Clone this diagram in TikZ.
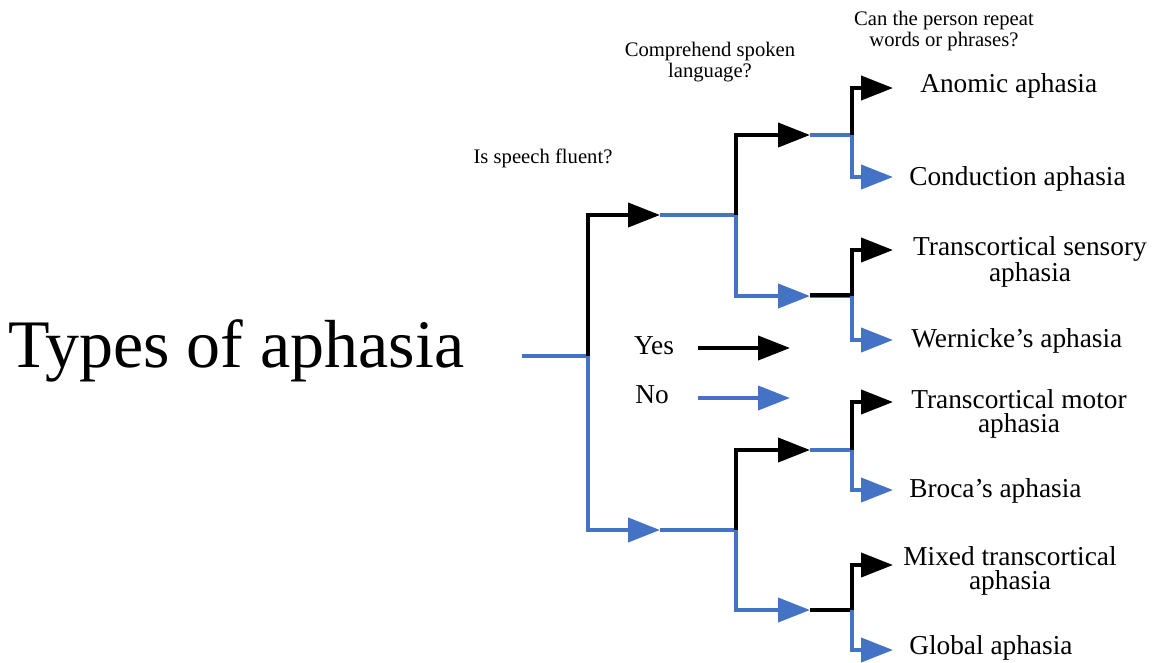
\documentclass[tikz,border=0pt]{standalone}
\usepackage{fontspec}
\setmainfont{Liberation Serif}
\usetikzlibrary{arrows.meta}
\definecolor{noblue}{HTML}{4472C4}
\tikzset{
  yesline/.style={draw=black, line width=3pt},
  noline/.style={draw=noblue, line width=3pt},
  tip/.style={-{Triangle[length=24pt,width=18pt]}},
  leaf/.style={inner sep=0pt, align=center, font=\fontsize{20.5}{18.5}\selectfont},
  question/.style={inner sep=0pt, align=center, font=\fontsize{15.5}{15.5}\selectfont},
}
\begin{document}
\begin{tikzpicture}[x=0.75pt,y=-0.75pt]
\useasboundingbox (0,0) rectangle (1156,662);

% title
\node[inner sep=0pt, anchor=west, font=\fontsize{51}{52}\selectfont] (title) at (8,351) {Types of aphasia};

% questions
\node[question] (q1) at (543,158) {Is speech fluent?};
\node[question] (q2) at (710,62) {Comprehend spoken\\language?};
\node[question] (q3) at (944,31) {Can the person repeat\\words or phrases?};

% coordinates of the tree
\coordinate (r0) at (522,356);
\coordinate (j0) at (588,356);
\coordinate (a1) at (660,215);
\coordinate (b1) at (660,530);
\coordinate (j1) at (736,215);
\coordinate (j2) at (736,530);
\coordinate (a2) at (810,135);
\coordinate (b2) at (810,296);
\coordinate (c2) at (810,450);
\coordinate (d2) at (810,610);
\coordinate (ja) at (852,135);
\coordinate (jb) at (852,296);
\coordinate (jc) at (852,450);
\coordinate (jd) at (852,610);
\coordinate (t1) at (893,88);
\coordinate (t2) at (893,177);
\coordinate (t3) at (893,250);
\coordinate (t4) at (893,340);
\coordinate (t5) at (893,402);
\coordinate (t6) at (893,490);
\coordinate (t7) at (893,565);
\coordinate (t8) at (893,650);

% leaves
\node[leaf, anchor=west] (l1) at (920,86) {Anomic aphasia};
\node[leaf, anchor=west] (l2) at (909,179) {Conduction aphasia};
\node[leaf] (l3) at (1030,262) {Transcortical sensory\\aphasia};
\node[leaf, anchor=west] (l4) at (911,341) {Wernicke’s aphasia};
\node[leaf] (l5) at (1019,414) {Transcortical motor\\aphasia};
\node[leaf, anchor=west] (l6) at (909,491) {Broca’s aphasia};
\node[leaf] (l7) at (1010,571) {Mixed transcortical\\aphasia};
\node[leaf, anchor=west] (l8) at (909,648) {Global aphasia};

% level 1
\draw[noline] (r0) -- (j0);
\draw[yesline, tip] (j0) |- (a1);
\draw[noline, tip] (j0) |- (b1);

% level 2
\draw[noline] (a1) -- (j1);
\draw[yesline, tip] (j1) |- (a2);
\draw[noline, tip] (j1) |- (b2);
\draw[noline] (b1) -- (j2);
\draw[yesline, tip] (j2) |- (c2);
\draw[noline, tip] (j2) |- (d2);

% level 3
\draw[noline] (a2) -- (ja);
\draw[yesline, tip] (ja) |- (t1);
\draw[noline, tip] (ja) |- (t2);
\draw[noline] (b2) -- (jb);
\draw[yesline] ([yshift=0.75pt]b2) -- ([yshift=0.75pt]jb);
\draw[yesline, tip] (jb) |- (t3);
\draw[noline, tip] (jb) |- (t4);
\draw[noline] (c2) -- (jc);
\draw[yesline, tip] (jc) |- (t5);
\draw[noline, tip] (jc) |- (t6);
\draw[yesline] (d2) -- (jd);
\draw[yesline, tip] (jd) |- (t7);
\draw[noline, tip] (jd) |- (t8);

% legend
\node[leaf] (yes) at (654,346) {Yes};
\node[leaf] (no) at (652,395) {No};
\coordinate (ys) at (698,348);
\coordinate (ye) at (790,348);
\coordinate (ns) at (698,398);
\coordinate (ne) at (790,398);
\draw[yesline, tip] (ys) -- (ye);
\draw[noline, tip] (ns) -- (ne);
\end{tikzpicture}
\end{document}
